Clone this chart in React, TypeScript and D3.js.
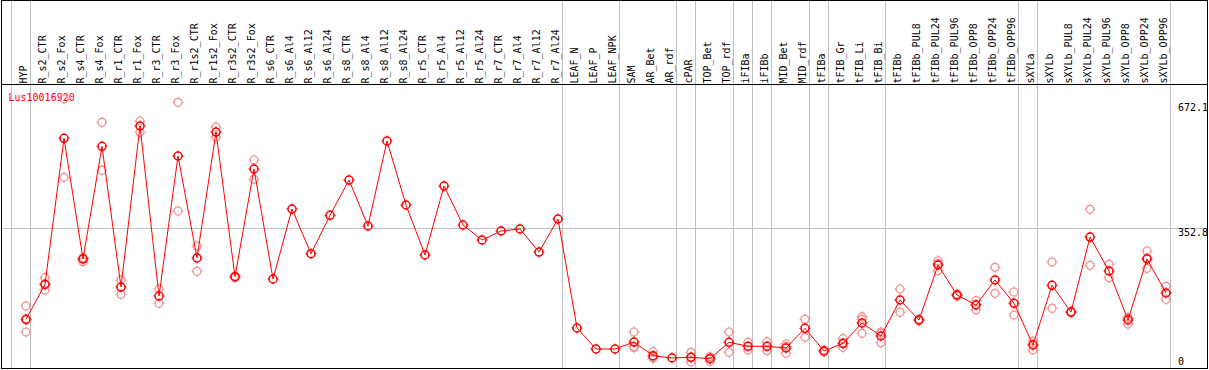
import React from "react";
import * as d3 from "d3";

const gene = "Lus10016920";

const labels = [
  "HYP", "R_s2_CTR", "R_s2_Fox", "R_s4_CTR", "R_s4_Fox", "R_r1_CTR", "R_r1_Fox", "R_r3_CTR", "R_r3_Fox",
  "R_r1s2_CTR", "R_r1s2_Fox", "R_r3s2_CTR", "R_r3s2_Fox", "R_s6_CTR", "R_s6_Al4", "R_s6_Al12", "R_s6_Al24",
  "R_s8_CTR", "R_s8_Al4", "R_s8_Al12", "R_s8_Al24", "R_r5_CTR", "R_r5_Al4", "R_r5_Al12", "R_r5_Al24",
  "R_r7_CTR", "R_r7_Al4", "R_r7_Al12", "R_r7_Al24", "LEAF_N", "LEAF_P", "LEAF_NPK", "SAM", "AR_Bet", "AR_rdf",
  "cPAR", "TOP_Bet", "TOP_rdf", "iFIBa", "iFIBb", "MID_Bet", "MID_rdf", "tFIBa", "tFIB_Gr", "tFIB_Li", "tFIB_Bi",
  "tFIBb", "tFIBb_PUL8", "tFIBb_PUL24", "tFIBb_PUL96", "tFIBb_OPP8", "tFIBb_OPP24", "tFIBb_OPP96",
  "sXYLa", "sXYLb", "sXYLb_PUL8", "sXYLb_PUL24", "sXYLb_PUL96", "sXYLb_OPP8", "sXYLb_OPP24", "sXYLb_OPP96",
];

const means = [
  125.7, 212.5, 574.6, 275.3, 554.8, 205.8, 605.1, 183.5, 530.7, 277.8, 590.2, 231.4, 498.5, 225.7, 399.3,
  288.5, 383.6, 471.2, 357.1, 567.9, 409.2, 285.2, 456.3, 359.6, 322.4, 344.7, 349.7, 292.6, 374.5, 104.2,
  52.1, 52.1, 69.4, 35.5, 29.8, 31.5, 28.0, 68.7, 58.8, 58.8, 54.6, 103.4, 47.1, 66.2, 116.6, 84.3, 173.6,
  124.0, 260.4, 186.0, 161.2, 223.2, 165.4, 62.0, 210.0, 143.8, 329.8, 245.5, 124.0, 275.3, 191.0,
];

const replicates: number[][] = [
  [158.7, 124, 94.2], [228.9, 212, 198.4], [672.1, 477.9], [278.5, 268.6, 276], [614.3, 495.3],
  [223.2, 187.7], [617.5, 589.5], [200.9, 165.4], [663.9, 394.3], [307.5, 244.8], [602.6, 577.8],
  [233, 229], [520.8, 472.9], [], [], [], [], [], [], [], [], [], [], [], [], [], [], [], [], [], [], [],
  [94.2, 58.6, 55.4], [45.4, 29, 32], [], [43.9, 19.8, 30.8], [33, 21.6, 29.4], [94.2, 43.9],
  [68.7, 49.6], [70.2, 47.9], [64.5, 41.4, 58], [125.7, 81.1], [49.6, 44.6], [77.6, 56.3, 64.7],
  [132.2, 125.7, 91], [94.2, 67.7, 91], [200.9, 143.1], [126, 122], [271, 246.3, 264], [187, 183, 188],
  [171.9, 149.5, 162], [254.7, 190.2], [193.4, 136.4], [71.9, 49.6, 64.5], [267.8, 153], [145, 142],
  [398.5, 259.6], [262.1, 228.9], [128.2, 114, 130], [295.1, 252.2, 278], [207.6, 175.3],
];

// group separators drawn after these column indices (-1 = before first)
const separatorsAfter = [-1, 0, 28, 31, 34, 35, 37, 38, 39, 41, 42, 45, 52, 53, 60];

const yTicks = [672.1, 352.8, 0];
const gridTicks = [352.8];

const W = 1209;
const H = 370;
const FONT = "'DejaVu Sans Mono', 'Liberation Mono', monospace";

const x = d3.scalePoint<string>().domain(labels).range([26, 26 + 19 * (labels.length - 1)]);
const y = d3.scaleLinear().domain([0, 672.1]).range([370, 99]);
const step = x.step();

const nubs = (r: number) =>
  `M0,${-r - 1.5}V${-r + 0.5}M0,${r - 0.5}V${r + 1.5}M${-r - 1.5},0H${-r + 0.5}M${r - 0.5},0H${r + 1.5}`;

function Marker({ cx, cy, color, sw }: { cx: number; cy: number; color: string; sw: number }) {
  return (
    <g transform={`translate(${cx},${cy})`}>
      <circle r={4} fill="none" stroke={color} strokeWidth={sw} />
      <path d={nubs(4)} stroke={color} strokeWidth={1} fill="none" />
    </g>
  );
}

export default function App() {
  const line = d3
    .line<number>()
    .x((_, i) => x(labels[i]) as number)
    .y((d) => y(d));

  const sepX = (k: number) => (k < 0 ? (x(labels[0]) as number) - step : (x(labels[k]) as number)) + 4.5;

  return (
    <div style={{ position: "absolute", left: 0, top: 0 }}>
      <svg width={W} height={H} style={{ display: "block", background: "#fff" }}>
        <rect x={0} y={0} width={W} height={H} fill="#fff" />
        {separatorsAfter.map((k) => (
          <line key={"s" + k} x1={sepX(k)} x2={sepX(k)} y1={0} y2={369} stroke="#c0c0c0" strokeWidth={1} />
        ))}
        {gridTicks.map((t) => (
          <line key={"g" + t} x1={1} x2={1208} y1={Math.round(y(t)) + 0.5} y2={Math.round(y(t)) + 0.5} stroke="#c0c0c0" strokeWidth={1} />
        ))}
        {/* frame */}
        <rect x={1.5} y={0.5} width={1206} height={368} fill="none" stroke="#000" strokeWidth={1} />
        <line x1={1} x2={1208} y1={84.5} y2={84.5} stroke="#000" strokeWidth={1} />

        {/* column labels */}
        {labels.map((l) => (
          <text
            key={l}
            transform={`translate(${(x(l) as number) + 1},83.5) rotate(-90)`}
            fontFamily={FONT}
            fontSize={10}
            fill="#000"
          >
            {l}
          </text>
        ))}

        {/* y tick labels */}
        {yTicks.map((t) => (
          <text
            key={"t" + t}
            x={1178}
            y={Math.min(365, Math.max(111, y(t) + 8))}
            fontFamily={FONT}
            fontSize={10}
            fill="#000"
          >
            {String(t)}
          </text>
        ))}

        <text x={8.5} y={101} fontFamily={FONT} fontSize={10} fill="#ff0000">
          {gene}
        </text>

        {/* replicates */}
        {replicates.map((reps, i) =>
          reps.map((v, j) => (
            <Marker key={`r${i}-${j}`} cx={x(labels[i]) as number} cy={y(v)} color="#f09090" sw={1.2} />
          ))
        )}

        <path d={line(means) || ""} fill="none" stroke="#ff0000" strokeWidth={1} />

        {means.map((v, i) => (
          <Marker key={"m" + i} cx={x(labels[i]) as number} cy={y(v)} color="#ff0000" sw={1.5} />
        ))}
      </svg>
    </div>
  );
}
